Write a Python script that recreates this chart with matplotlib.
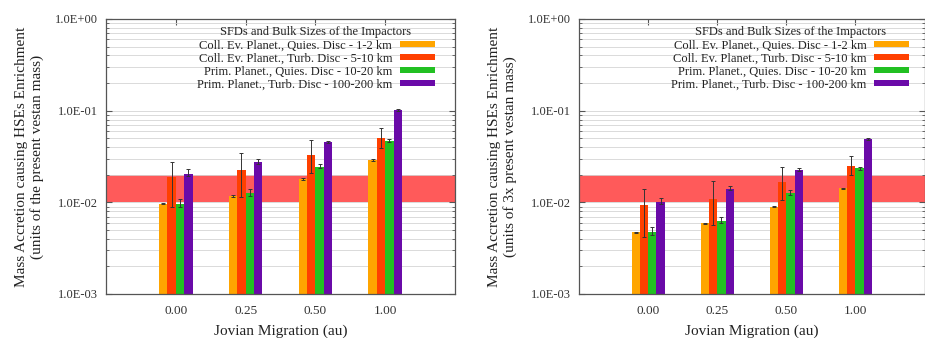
import matplotlib
matplotlib.use("Agg")
import matplotlib.pyplot as plt
import numpy as np
from matplotlib.patches import Patch
from matplotlib.ticker import FixedLocator, LogLocator, NullFormatter

plt.rcParams['font.family'] = ['Liberation Serif', 'DejaVu Serif']

migration = ['0.00', '0.25', '0.50', '1.00']
series_names = ['Coll. Ev. Planet., Quies. Disc - 1-2 km',
                'Coll. Ev. Planet., Turb. Disc - 5-10 km',
                'Prim. Planet., Quies. Disc - 10-20 km',
                'Prim. Planet., Turb. Disc - 100-200 km']
colors = ['#ffa500', '#ff4000', '#22c022', '#6a0aa8']

# left panel: units of present vestan mass
left_vals = [[0.0097, 0.0117, 0.018, 0.029],
             [0.019, 0.0225, 0.033, 0.050],
             [0.0097, 0.0127, 0.0245, 0.047],
             [0.0205, 0.0275, 0.045, 0.102]]
left_lo = [[0.0095, 0.0115, 0.0177, 0.0285],
           [0.0088, 0.0115, 0.021, 0.039],
           [0.0090, 0.0118, 0.0235, 0.046],
           [0.0195, 0.0265, 0.044, 0.100]]
left_hi = [[0.0099, 0.0119, 0.0183, 0.0295],
           [0.0275, 0.0345, 0.048, 0.064],
           [0.0108, 0.0140, 0.0260, 0.049],
           [0.0230, 0.0300, 0.047, 0.104]]

# right panel: units of 3x present vestan mass
right_vals = [[0.0047, 0.0059, 0.0090, 0.0143],
              [0.0093, 0.0110, 0.0165, 0.025],
              [0.0048, 0.0063, 0.0125, 0.0235],
              [0.0102, 0.0140, 0.0225, 0.049]]
right_lo = [[0.0046, 0.0058, 0.0089, 0.0141],
            [0.0042, 0.0056, 0.0105, 0.020],
            [0.0044, 0.0059, 0.0120, 0.0228],
            [0.0097, 0.0135, 0.0220, 0.048]]
right_hi = [[0.0048, 0.0060, 0.0091, 0.0145],
            [0.0139, 0.0170, 0.0240, 0.032],
            [0.0054, 0.0070, 0.0135, 0.0245],
            [0.0112, 0.0152, 0.0235, 0.050]]

band = (0.01, 0.02)
ytick_vals = [1e-3, 1e-2, 1e-1, 1e0]
ytick_labels = ['1.0E-03', '1.0E-02', '1.0E-01', '1.0E+00']

fig = plt.figure(figsize=(9.25, 3.38), dpi=100)
ax1 = fig.add_axes([0.1146, 0.1302, 0.3773, 0.8136])
ax2 = fig.add_axes([0.626, 0.1302, 0.3735, 0.8136])

ylabels = ['Mass Accretion causing HSEs Enrichment\n(units of the present vestan mass)',
           'Mass Accretion causing HSEs Enrichment\n(units of 3x present vestan mass)']
legend_x = [0.963, 0.977]

w = 0.12
x = np.arange(len(migration))
for ax, vals, lo, hi, yl, lx in zip([ax1, ax2], [left_vals, right_vals],
                                    [left_lo, right_lo], [left_hi, right_hi],
                                    ylabels, legend_x):
    ax.set_yscale('log')
    ax.set_ylim(1e-3, 1.0)
    ax.set_xlim(-1, 4)
    ax.grid(True, which='both', axis='y', color='#d4d4d4', lw=0.6, zorder=0)
    ax.axhspan(*band, color='#ff5a5a', lw=0, zorder=1)
    for k in range(4):
        pos = x + (k - 1.5) * w
        v = np.array(vals[k])
        yerr = [v - np.array(lo[k]), np.array(hi[k]) - v]
        ax.bar(pos, v, w, color=colors[k], zorder=2)
        ax.errorbar(pos, v, yerr=yerr, fmt='none', ecolor='#333333',
                    elinewidth=0.7, capsize=1.5, capthick=0.7, zorder=3)
    ax.set_xticks(x)
    ax.set_xticklabels(migration, fontsize=9.5)
    ax.yaxis.set_major_locator(FixedLocator(ytick_vals))
    ax.set_yticklabels(ytick_labels, fontsize=9)
    ax.yaxis.set_minor_locator(LogLocator(base=10, subs=np.arange(2, 10)))
    ax.yaxis.set_minor_formatter(NullFormatter())
    ax.tick_params(which='both', direction='in', top=True, right=True,
                   colors='#555555', labelcolor='#333333')
    ax.tick_params(which='major', length=4, pad=6)
    ax.tick_params(axis='x', which='major', pad=8)
    ax.tick_params(which='minor', length=2)
    for s in ax.spines.values():
        s.set_color('#555555')
        s.set_linewidth(0.9)
    ax.set_xlabel('Jovian Migration (au)', fontsize=11, color='#222222', labelpad=5)
    ax.set_ylabel(yl, fontsize=11, color='#222222', labelpad=8, linespacing=1.15)
    handles = [Patch(facecolor=c, edgecolor='none') for c in colors]
    leg = ax.legend(handles, series_names, title='SFDs and Bulk Sizes of the Impactors',
                    loc='upper right', bbox_to_anchor=(lx, 1.0), frameon=False,
                    fontsize=9, title_fontsize=9, markerfirst=False,
                    handlelength=2.8, handleheight=0.45, labelspacing=0.08,
                    handletextpad=0.6, borderaxespad=0.2)
    for t in leg.get_texts():
        t.set_ha('right')
        t.set_color('#222222')
    leg.get_title().set_color('#222222')

fig.savefig('out.png', dpi=100)
